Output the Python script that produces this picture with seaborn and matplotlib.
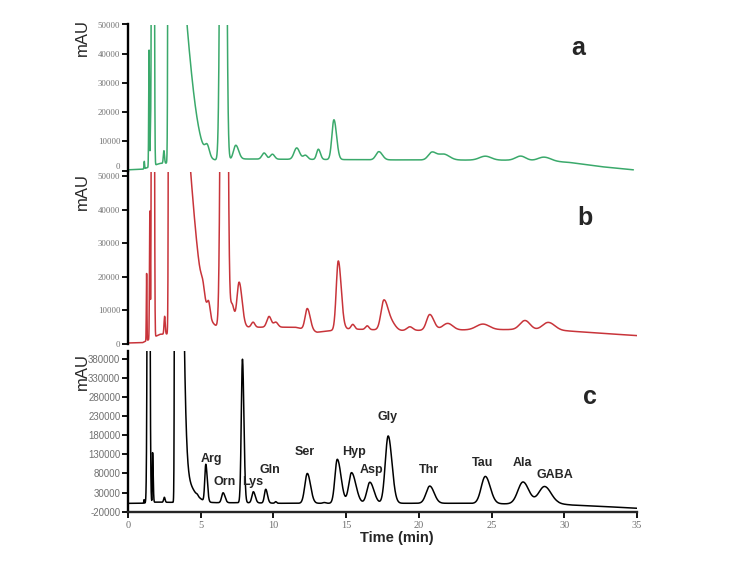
import numpy as np
import matplotlib
matplotlib.use("Agg")
import matplotlib.pyplot as plt
import seaborn as sns

# retention time grid (min)
time = np.linspace(0, 35, 7001)

# ---- trace a (green): peaks = retention time, height above baseline, left / right width
rt_a = [1.12, 1.45, 1.54, 1.65, 1.78, 2.47, 2.86, 3.20, 5.45, 6.55, 7.41, 9.36, 9.93,
        11.6, 12.2, 13.09, 14.16, 17.25, 20.9, 21.7, 24.57, 27.0, 28.6]
h_a = [2500, 40000, 9000, 150000, 150000, 4300, 2000000, 77000, 3500, 500000, 4900, 2100, 1700,
       3900, 1400, 3500, 13600, 2800, 2600, 2000, 1350, 1500, 1300]
wl_a = [0.02, 0.025, 0.02, 0.04, 0.035, 0.04, 0.05, 0.1, 0.15, 0.13, 0.16, 0.15, 0.15,
        0.18, 0.15, 0.12, 0.14, 0.2, 0.25, 0.35, 0.4, 0.35, 0.4]
wr_a = [0.02, 0.025, 0.02, 0.04, 0.035, 0.04, 0.3, 0.857, 0.15, 0.13, 0.2, 0.15, 0.15,
        0.2, 0.15, 0.14, 0.18, 0.24, 0.3, 0.4, 0.4, 0.35, 0.45]
base_t_a = [0, 1.0, 2.2, 5.0, 8.0, 18.0, 26.0, 29.0, 30.4, 32.5, 34.75]
base_v_a = [300, 500, 2500, 3000, 4000, 3700, 3600, 3300, 2800, 1400, 300]

# ---- trace b (red)
rt_b = [1.28, 1.50, 1.65, 1.78, 2.52, 2.90, 3.30, 5.15, 5.55, 6.61, 7.15, 7.64, 8.60, 9.70,
        10.16, 12.33, 14.46, 15.46, 16.45, 17.60, 18.20, 19.38, 20.75, 21.98, 24.4, 27.3, 28.9]
h_b = [20000, 38000, 150000, 150000, 5300, 2000000, 85600, 3000, 4000, 500000, 7000, 13500, 1500, 3200,
       1500, 6400, 20500, 1400, 1100, 8900, 1500, 1100, 4700, 2000, 1700, 2800, 2400]
wl_b = [0.02, 0.025, 0.04, 0.035, 0.04, 0.05, 0.1, 0.12, 0.1, 0.14, 0.15, 0.15, 0.12, 0.15,
        0.15, 0.15, 0.14, 0.12, 0.12, 0.2, 0.25, 0.2, 0.22, 0.35, 0.45, 0.35, 0.4]
wr_b = [0.02, 0.025, 0.04, 0.035, 0.04, 0.3, 0.93, 0.12, 0.1, 0.14, 0.15, 0.2, 0.12, 0.15,
        0.15, 0.2, 0.2, 0.12, 0.12, 0.3, 0.25, 0.2, 0.28, 0.35, 0.45, 0.35, 0.45]
base_t_b = [0, 1.0, 2.2, 3.0, 5.0, 8.0, 11.5, 13.0, 15.0, 18.8, 23.4, 26.3, 30.2, 32.5, 35.0]
base_v_b = [300, 400, 2900, 3000, 4000, 5000, 5000, 3500, 4500, 4000, 4200, 4300, 3900, 3200, 2500]

# ---- trace c (black, amino acid standards)
rt_c = [1.10, 1.415, 1.69, 2.50, 3.256, 3.60, 4.76, 5.35, 6.54, 7.87, 8.62, 9.47, 10.16,
        12.33, 13.5, 14.39, 15.37, 16.63, 17.89, 20.75, 24.57, 27.16, 28.64]
h_c = [9000, 2500000, 130000, 13000, 3000000, 75500, 3000, 97000, 26000, 375000, 29000, 36000, 4000,
       78000, 2000, 115000, 80000, 55000, 176000, 45000, 71000, 57000, 45000]
wl_c = [0.015, 0.06, 0.02, 0.05, 0.038, 0.1, 0.06, 0.07, 0.1, 0.08, 0.1, 0.09, 0.06,
        0.17, 0.1, 0.16, 0.19, 0.2, 0.2, 0.25, 0.28, 0.35, 0.4]
wr_c = [0.015, 0.06, 0.04, 0.05, 0.30, 0.707, 0.06, 0.1, 0.13, 0.1, 0.13, 0.12, 0.06,
        0.22, 0.1, 0.26, 0.3, 0.28, 0.26, 0.3, 0.34, 0.4, 0.45]
base_t_c = [0, 1.0, 1.9, 5.0, 8.2, 10.5, 23.0, 26.0, 29.5, 30.5, 32.0, 35.0]
base_v_c = [1800, 2000, 5000, 3500, 3500, 2000, 2000, 500, 1000, -2500, -5000, -11000]

aa_names = ["Arg", "Orn", "Lys", "Gln", "Ser", "Hyp", "Asp", "Gly", "Thr", "Tau", "Ala", "GABA"]
# label anchor (time, mAU) in panel c
aa_label_pos = [(5.72, 119000), (6.61, 58000), (8.56, 58000), (9.77, 88700), (12.16, 135000),
                (15.53, 135000), (16.75, 88700), (17.82, 227700), (20.7, 88700), (24.39, 107700),
                (27.12, 107700), (29.37, 75000)]


def build_trace(rt, h, wl, wr, bt, bv, t_end=35.0):
    y = np.interp(time, bt, bv)
    for c, hh, a, b in zip(rt, h, wl, wr):
        s = np.where(time < c, a, b)
        y = y + hh * np.exp(-0.5 * ((time - c) / s) ** 2)
    y[time > t_end] = np.nan
    return y


ya = build_trace(rt_a, h_a, wl_a, wr_a, base_t_a, base_v_a, t_end=34.75)
yb = build_trace(rt_b, h_b, wl_b, wr_b, base_t_b, base_v_b)
yc = build_trace(rt_c, h_c, wl_c, wr_c, base_t_c, base_v_c)

sns.set_style("ticks")
W, H = 750, 562
fig = plt.figure(figsize=(7.5, 5.62), dpi=100)


def add_ax(top, bottom):
    return fig.add_axes([128 / W, 1 - bottom / H, (637 - 128) / W, (bottom - top) / H])


ax_a = add_ax(24.5, 170.7)
ax_b = add_ax(172, 344)
ax_c = add_ax(351, 511.7)

gray = "#707070"
serif = "Liberation Serif"
sans = "Liberation Sans"

for ax, y, col in [(ax_a, ya, "#3aa96b"), (ax_b, yb, "#c8343a"), (ax_c, yc, "black")]:
    sns.lineplot(x=time, y=y, ax=ax, color=col, linewidth=1.1, estimator=None, sort=False)
    ax.set_xlim(0, 35)
    ax.set_xlabel("")
    ax.set_ylabel("")
    ax.spines["left"].set_linewidth(1.7)
    ax.spines["left"].set_color("black")
    ax.tick_params(axis="y", length=4, width=1.3, color="black", pad=1.5)
    ax.patch.set_alpha(0)

for ax, top in [(ax_a, 50000), (ax_b, 51200)]:
    sns.despine(ax=ax, bottom=True)
    ax.set_ylim(0, top)
    ax.set_xticks([])
    ticks = [0, 10000, 20000, 30000, 40000, 50000]
    ax.set_yticks(ticks)
    ax.set_yticklabels([str(v) for v in ticks], fontsize=6.3, color=gray, family=serif)

# lift panel a's zero label a little so it does not sit on panel b's top label
ax_a.get_yticklabels()[0].set_va("bottom")

sns.despine(ax=ax_c)
ax_c.set_ylim(-20000, 400000)
cticks = list(range(-20000, 380001, 50000))
ax_c.set_yticks(cticks)
ax_c.set_yticklabels([str(v) for v in cticks], fontsize=7, color=gray, family=sans)
xt = list(range(0, 36, 5))
ax_c.set_xticks(xt)
ax_c.set_xticklabels([str(v) for v in xt], fontsize=7.5, color=gray, family=serif)
ax_c.spines["bottom"].set_linewidth(1.7)
ax_c.tick_params(axis="x", length=4, width=1.3, color="black", pad=3)

for name, (tx, ty) in zip(aa_names, aa_label_pos):
    ax_c.text(tx, ty, name, ha="center", va="center", fontsize=9, fontweight="bold", family=sans)

for lbl, x, y in [("a", 578, 48), ("b", 585, 218), ("c", 590, 397)]:
    fig.text(x / W, 1 - y / H, lbl, ha="center", va="center", fontsize=18,
             fontweight="bold", family=sans)

for y in [38, 192, 372]:
    fig.text(82 / W, 1 - y / H, "mAU", rotation=90, ha="center", va="center",
             fontsize=12, family=sans)

fig.text(397 / W, 1 - 538 / H, "Time (min)", ha="center", va="center", fontsize=10.5,
         fontweight="bold", family=sans)

fig.savefig("out.png", dpi=100)
